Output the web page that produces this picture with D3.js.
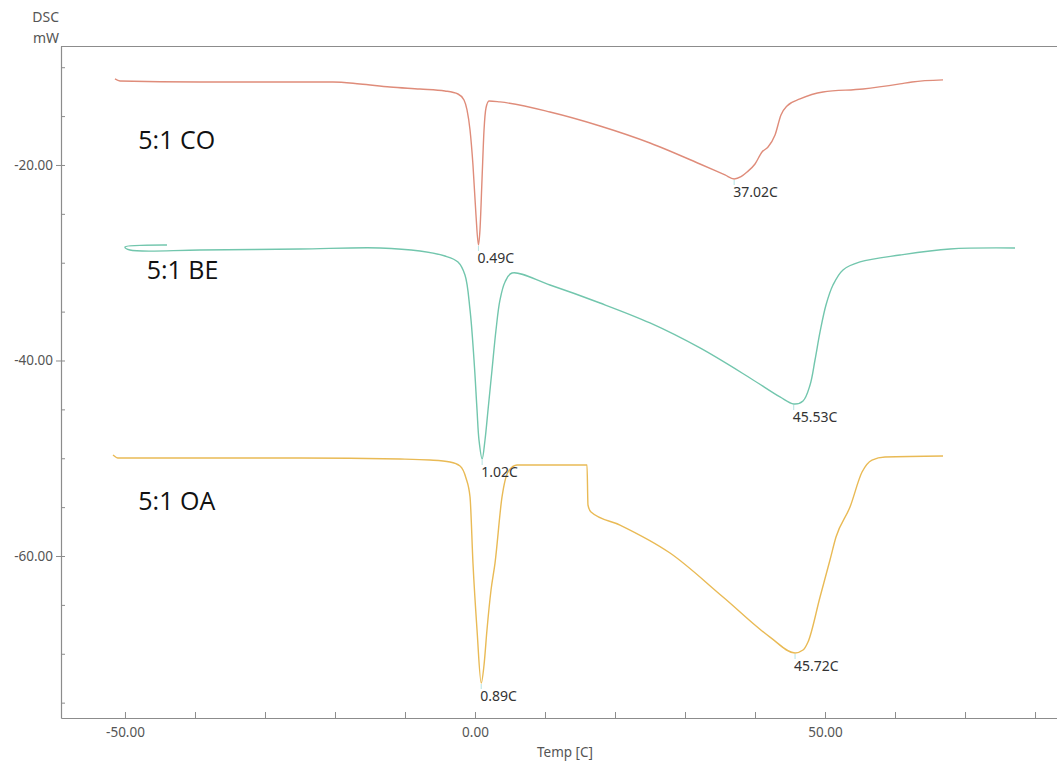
<!DOCTYPE html>
<html>
<head>
<meta charset="utf-8">
<script src="https://cdn.jsdelivr.net/npm/d3@7"></script>
<style>
  html, body { margin: 0; padding: 0; background: #fff; }
  svg { display: block; }
</style>
</head>
<body>
<svg id="chart" width="1057" height="767"></svg>
<script>
// ---- Data (Temp [C], DSC [mW]) ----
const seriesNames = ["5:1 CO", "5:1 BE", "5:1 OA"];
const seriesColors = ["#df8c7a", "#72c6ad", "#e9ba55"];

const coTemp = [-51.43, -50.71, -39.29, -27.86, -20.29, -16.43, -12.14, -7.86, -4.29, -2.43, -1.57, -1.14, -0.71, -0.29, 0.14, 0.49, 0.71, 1.0, 1.29, 1.57, 2.0, 3.57, 10.71, 17.86, 25.0, 32.14, 35.71, 37.02, 38.0, 38.86, 40.0, 41.0, 41.86, 42.86, 43.71, 44.57, 46.43, 49.71, 55.43, 60.71, 62.43, 66.86];
const coDSC  = [-11.20, -11.41, -11.51, -11.51, -11.51, -11.71, -12.02, -12.23, -12.43, -12.74, -13.35, -14.37, -16.42, -20.0, -25.12, -28.18, -26.65, -21.53, -16.42, -14.17, -13.45, -13.55, -14.58, -16.01, -17.75, -19.90, -21.02, -21.43, -21.20, -20.72, -19.90, -18.67, -18.16, -16.93, -14.88, -13.96, -13.25, -12.53, -12.23, -11.71, -11.51, -11.30];

const beTemp = [-44.0, -50.0, -49.29, -39.29, -25.0, -13.57, -7.86, -4.29, -2.43, -1.43, -0.71, -0.14, 0.29, 0.57, 1.02, 1.43, 1.86, 2.43, 3.0, 3.57, 4.29, 5.29, 10.71, 17.86, 25.0, 32.14, 39.29, 43.57, 45.53, 46.86, 47.86, 48.57, 49.29, 50.14, 51.14, 52.57, 55.0, 60.71, 67.86, 77.14];
const beDSC  = [-28.18, -28.39, -28.70, -28.70, -28.59, -28.49, -28.80, -29.31, -29.92, -31.25, -34.83, -39.95, -45.06, -48.13, -50.08, -48.13, -45.06, -40.97, -36.88, -33.81, -31.97, -31.05, -32.28, -34.12, -36.16, -38.72, -41.79, -43.73, -44.45, -44.14, -42.51, -39.95, -37.08, -34.32, -32.28, -30.74, -29.92, -29.21, -28.59, -28.49];

const oaTemp = [-51.71, -51.0, -39.29, -25.0, -10.71, -6.43, -3.57, -2.14, -1.29, -0.71, -0.29, 0.29, 0.89, 1.29, 1.71, 2.29, 2.86, 3.86, 4.71, 6.0, 10.71, 16.0, 16.14, 16.57, 20.71, 27.86, 35.43, 42.14, 45.72, 46.86, 47.57, 49.29, 50.71, 51.57, 53.57, 55.29, 56.71, 58.57, 66.86];
const oaDSC  = [-49.67, -49.97, -49.97, -49.97, -50.08, -50.18, -50.38, -50.79, -52.02, -53.96, -60.72, -67.57, -72.99, -71.15, -67.57, -63.48, -60.72, -53.96, -51.41, -50.69, -50.69, -50.69, -54.78, -55.50, -56.83, -59.69, -64.19, -68.29, -69.92, -69.62, -68.80, -64.19, -60.41, -58.06, -54.99, -51.41, -50.18, -49.87, -49.77];

const peakTemp  = [0.49, 37.02, 1.02, 45.53, 0.89, 45.72];
const peakDSC   = [-28.18, -21.43, -50.08, -44.45, -72.99, -69.92];
const peakLabels = ["0.49C", "37.02C", "1.02C", "45.53C", "0.89C", "45.72C"];

const nameTemp = [-48.1, -46.9, -48.1];
const nameDSC  = [-18.4, -31.7, -55.3];

const xTicks = [-50, -40, -30, -20, -10, 0, 10, 20, 30, 40, 50, 60, 70, 80];
const xLabelTicks = [-50, 0, 50];
const yMinorTicks = [-75, -70, -65, -60, -55, -50, -45, -40, -35, -30, -25, -20, -15, -10];
const yLabelTicks = [-60, -40, -20];

// ---- Layout ----
const svg = d3.select("#chart");
const L = 61, R = 1057, T = 46, B = 718;
const x = d3.scaleLinear().domain([-59.14, 83.14]).range([L, R]);
const y = d3.scaleLinear().domain([-76.57, -7.83]).range([B, T]);

const axisColor = "#8c8c8c";
const textColor = "#555";
const font = "'Noto Sans', 'DejaVu Sans', sans-serif";

// top frame line
svg.append("line").attr("x1", L).attr("x2", R).attr("y1", T + 0.5).attr("y2", T + 0.5)
  .attr("stroke", axisColor).attr("stroke-width", 1.2);

// x axis
const gx = svg.append("g").attr("transform", `translate(0,${B})`)
  .call(d3.axisBottom(x).tickValues(xTicks).tickSizeInner(-6).tickSizeOuter(0).tickPadding(9)
    .tickFormat(d => xLabelTicks.includes(d) ? d.toFixed(2) : ""));
gx.select(".domain").attr("stroke", axisColor).attr("stroke-width", 1.2);
gx.selectAll(".tick line").attr("stroke", axisColor);
gx.selectAll("text").attr("fill", textColor).style("font-family", font).style("font-size", "13.5px");

// y axis (major labels, outward)
const gy = svg.append("g").attr("transform", `translate(${L},0)`)
  .call(d3.axisLeft(y).tickValues(yLabelTicks).tickSizeInner(5).tickSizeOuter(0).tickPadding(3)
    .tickFormat(d => d.toFixed(2)));
gy.select(".domain").attr("stroke", axisColor).attr("stroke-width", 1.2);
gy.selectAll(".tick line").attr("stroke", axisColor);
gy.selectAll("text").attr("fill", textColor).style("font-family", font).style("font-size", "13.5px");

// y minor ticks (inward)
const gy2 = svg.append("g").attr("transform", `translate(${L},0)`)
  .call(d3.axisRight(y).tickValues(yMinorTicks).tickSizeInner(4).tickSizeOuter(0).tickFormat(""));
gy2.select(".domain").remove();
gy2.selectAll(".tick line").attr("stroke", axisColor);

// axis titles
svg.append("text").attr("x", 59).attr("y", 22).attr("text-anchor", "end")
  .attr("fill", textColor).style("font-family", font).style("font-size", "14px").text("DSC");
svg.append("text").attr("x", 59).attr("y", 43).attr("text-anchor", "end")
  .attr("fill", textColor).style("font-family", font).style("font-size", "14px").text("mW");
svg.append("text").attr("x", 565).attr("y", 757).attr("text-anchor", "middle")
  .attr("fill", textColor).style("font-family", font).style("font-size", "13.5px").text("Temp  [C]");

// curves
const smooth = d3.line().x(d => x(d[0])).y(d => y(d[1])).curve(d3.curveCatmullRom.alpha(0.5));
const mono = d3.line().x(d => x(d[0])).y(d => y(d[1])).curve(d3.curveMonotoneX);
const series = [
  d3.zip(coTemp, coDSC),
  d3.zip(beTemp, beDSC),
  d3.zip(oaTemp, oaDSC)
];
const gens = [mono, smooth, mono];
series.forEach((pts, i) => {
  svg.append("path").datum(pts).attr("d", gens[i])
    .attr("fill", "none").attr("stroke", seriesColors[i]).attr("stroke-width", 1.4)
    .attr("stroke-linejoin", "round");
});

// peak markers and labels
peakTemp.forEach((t, i) => {
  svg.append("line").attr("x1", x(t)).attr("x2", x(t)).attr("y1", y(peakDSC[i]) + 1).attr("y2", y(peakDSC[i]) + 6)
    .attr("stroke", "#b5e3e3").attr("stroke-width", 1);
  svg.append("text").attr("x", x(t) - 1).attr("y", y(peakDSC[i]) + 18)
    .attr("fill", "#333").style("font-family", font).style("font-size", "14px")
    .text(peakLabels[i]);
});

// series names
seriesNames.forEach((n, i) => {
  svg.append("text").attr("x", x(nameTemp[i])).attr("y", y(nameDSC[i]))
    .attr("fill", "#111").style("font-family", "'Open Sans', 'Noto Sans', sans-serif").style("font-size", "25px")
    .text(n);
});
</script>
</body>
</html>
